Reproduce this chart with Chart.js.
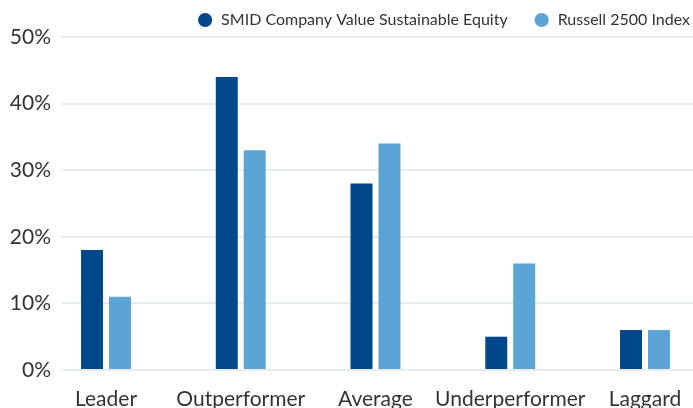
<!DOCTYPE html>
<html>
<head>
<meta charset="utf-8">
<script src="https://cdn.jsdelivr.net/npm/chart.js@4"></script>
<style>
  html, body { margin: 0; padding: 0; background: #ffffff; overflow: hidden; }
  #wrap { position: relative; width: 716px; height: 408px; }
</style>
</head>
<body>
<div id="wrap"><canvas id="c" width="716" height="408" style="width:716px;height:408px"></canvas></div>
<script>
const categories = ["Leader", "Outperformer", "Average", "Underperformer", "Laggard"];
const seriesNames = ["SMID Company Value Sustainable Equity", "Russell 2500 Index"];
const smidValues = [18, 44, 28, 5, 6];
const russellValues = [11, 33, 34, 16, 6];
const yTicks = [0, 10, 20, 30, 40, 50];

const DARK = "#004889";
const LIGHT = "#5ba4d5";
const TEXT = "#333333";
const GRID = "#e6ecef";
const FONT = "Lato, 'Open Sans', sans-serif";

const LEGEND_PAD = 26;
const LEGEND_FONT = 16;
const LAYOUT_TOP = 20 - LEGEND_FONT / 2 - LEGEND_PAD;
const CHART_TOP = 37;

const toPoints = vals => vals.map((v, i) => ({ x: i, y: v }));

new Chart(document.getElementById("c"), {
  type: "bar",
  data: {
    datasets: [
      { label: seriesNames[0], data: toPoints(smidValues), backgroundColor: DARK, borderWidth: 0 },
      { label: seriesNames[1], data: toPoints(russellValues), backgroundColor: LIGHT, borderWidth: 0 }
    ]
  },
  options: {
    responsive: false,
    animation: false,
    devicePixelRatio: 1,
    categoryPercentage: 0.415,
    barPercentage: 0.786,
    layout: { padding: { top: LAYOUT_TOP, left: 0, right: 0, bottom: 0 } },
    plugins: {
      tooltip: { enabled: false },
      legend: {
        position: "top",
        align: "end",
        maxHeight: CHART_TOP - LAYOUT_TOP,
        labels: {
          usePointStyle: true,
          pointStyle: "circle",
          boxWidth: 18,
          boxHeight: 10,
          padding: LEGEND_PAD,
          color: TEXT,
          font: { family: FONT, size: LEGEND_FONT }
        }
      }
    },
    scales: {
      x: {
        type: "linear",
        offset: false,
        min: -0.334,
        max: 4.527,
        afterBuildTicks(s) { s.ticks = categories.map((c, i) => ({ value: i })); },
        grid: { display: false, drawTicks: false, offset: false },
        border: { display: false },
        ticks: {
          color: TEXT,
          font: { family: FONT, size: 21 },
          padding: 17,
          maxRotation: 0,
          autoSkip: false,
          callback: v => categories[v]
        },
        afterFit(s) { s.height = 38; }
      },
      y: {
        min: 0,
        max: 50,
        afterBuildTicks(s) { s.ticks = yTicks.map(v => ({ value: v })); },
        grid: { color: GRID, lineWidth: 2, drawTicks: false },
        border: { display: false },
        ticks: {
          color: TEXT,
          font: { family: FONT, size: 21 },
          padding: 10,
          callback: v => v + "%"
        },
        afterFit(s) { s.width = 61; }
      }
    }
  }
});
</script>
</body>
</html>
